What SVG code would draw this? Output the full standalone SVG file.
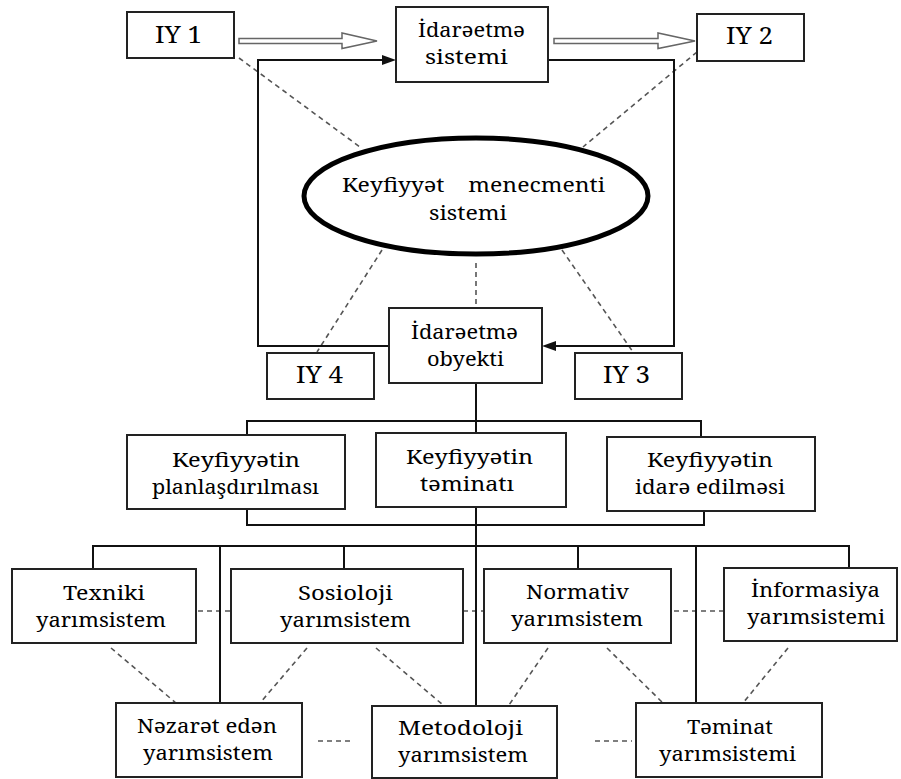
<svg xmlns="http://www.w3.org/2000/svg" width="901" height="779" viewBox="0 0 901 779">
<style>
.box{fill:#fff;stroke:#222;stroke-width:2}
.ell{fill:#fff;stroke:#000;stroke-width:5}
.t{font-family:"Noto Serif","DejaVu Serif",serif;font-size:19.5px;fill:#000;text-anchor:middle}
.tb{font-size:20.5px}
.iy{font-size:24px}
.ln{fill:none;stroke:#111;stroke-width:2}
.dash{fill:none;stroke:#555;stroke-width:1.6;stroke-dasharray:5 4}
.hol{fill:#fff;stroke:#666;stroke-width:1.5}
.ah{fill:#111}
</style>
<rect width="901" height="779" fill="#fff"/>
<g id="connectors">
<path class="dash" d="M239,58 L360,147"/>
<path class="dash" d="M697,52 L583,147"/>
<path class="dash" d="M382,250 L317,352"/>
<path class="dash" d="M476,263 L476,307"/>
<path class="dash" d="M562,250 L633,352"/>
<path class="dash" d="M198,611 H231"/>
<path class="dash" d="M463,611 H484"/>
<path class="dash" d="M674,611 H724"/>
<path class="dash" d="M111,648 L176,703"/>
<path class="dash" d="M307,648 L260,703"/>
<path class="dash" d="M376,648 L443,705"/>
<path class="dash" d="M548,648 L509,705"/>
<path class="dash" d="M607,648 L663,703"/>
<path class="dash" d="M788,648 L743,703"/>
<path class="dash" d="M318,741 H350"/>
<path class="dash" d="M595,741 H632"/>
<polygon class="hol" points="239,38.5 342,38.5 342,33 377,41 342,48.5 342,43.5 239,43.5"/>
<polygon class="hol" points="554,38.5 658,38.5 658,33 695,41 658,48.5 658,43.5 554,43.5"/>
<path class="ln" d="M389,346 H258 V60 H384"/>
<polygon class="ah" points="396,60 382,55 382,65"/>
<path class="ln" d="M548,60 H674 V346 H554"/>
<polygon class="ah" points="542,346 556,341 556,351"/>
<path class="ln" d="M476,383 V433 M476,507 V547"/>
<path class="ln" d="M247,435 V421 H701 V437"/>
<path class="ln" d="M247,509 V525 H704 V511"/>
<path class="ln" d="M93,569 V546 H849 V567"/>
<path class="ln" d="M220,546 V703 M344,546 V569 M476,546 V706 M578,546 V569 M696,546 V703"/>
</g>
<g id="iy1"><rect class="box" x="127" y="12" width="107" height="46"/><text class="t iy" x="178.5" y="43" textLength="47" lengthAdjust="spacingAndGlyphs">IY 1</text></g>
<g id="idare-sistemi"><rect class="box" x="396" y="7" width="152" height="75"/><text class="t" x="471.5" y="37" textLength="107" lengthAdjust="spacingAndGlyphs">İdarəetmə</text><text class="t" x="466.5" y="64" textLength="83" lengthAdjust="spacingAndGlyphs">sistemi</text></g>
<g id="iy2"><rect class="box" x="697" y="14" width="107" height="47"/><text class="t iy" x="749.5" y="44" textLength="47" lengthAdjust="spacingAndGlyphs">IY 2</text></g>
<g id="kms"><ellipse class="ell" cx="476" cy="196" rx="172" ry="58"/><text class="t tb" x="473.5" y="192" word-spacing="16" textLength="263" lengthAdjust="spacingAndGlyphs">Keyfiyyət menecmenti</text><text class="t tb" x="468" y="220" textLength="78" lengthAdjust="spacingAndGlyphs">sistemi</text></g>
<g id="idare-obyekti"><rect class="box" x="389" y="308" width="153" height="75"/><text class="t" x="464.5" y="339" textLength="107" lengthAdjust="spacingAndGlyphs">İdarəetmə</text><text class="t" x="465.5" y="366" textLength="77" lengthAdjust="spacingAndGlyphs">obyekti</text></g>
<g id="iy4"><rect class="box" x="267" y="353" width="107" height="46"/><text class="t iy" x="319.5" y="383" textLength="47" lengthAdjust="spacingAndGlyphs">IY 4</text></g>
<g id="iy3"><rect class="box" x="575" y="353" width="107" height="46"/><text class="t iy" x="626.5" y="383" textLength="47" lengthAdjust="spacingAndGlyphs">IY 3</text></g>
<g id="planlasdirilmasi"><rect class="box" x="127" y="435" width="218" height="74"/><text class="t" x="236" y="467" textLength="128" lengthAdjust="spacingAndGlyphs">Keyfiyyətin</text><text class="t" x="235.5" y="494" textLength="167" lengthAdjust="spacingAndGlyphs">planlaşdırılması</text></g>
<g id="teminati"><rect class="box" x="376" y="433" width="190" height="74"/><text class="t" x="469.5" y="464" textLength="127" lengthAdjust="spacingAndGlyphs">Keyfiyyətin</text><text class="t" x="467" y="491" textLength="94" lengthAdjust="spacingAndGlyphs">təminatı</text></g>
<g id="idare-edilmesi"><rect class="box" x="607" y="437" width="208" height="74"/><text class="t" x="710" y="467" textLength="126" lengthAdjust="spacingAndGlyphs">Keyfiyyətin</text><text class="t" x="710" y="494" textLength="150" lengthAdjust="spacingAndGlyphs">idarə edilməsi</text></g>
<g id="texniki"><rect class="box" x="12" y="569" width="184" height="74"/><text class="t" x="104" y="600" textLength="82" lengthAdjust="spacingAndGlyphs">Texniki</text><text class="t" x="101" y="627" textLength="130" lengthAdjust="spacingAndGlyphs">yarımsistem</text></g>
<g id="sosioloji"><rect class="box" x="231" y="569" width="232" height="74"/><text class="t" x="345.5" y="600" textLength="95" lengthAdjust="spacingAndGlyphs">Sosioloji</text><text class="t" x="345.5" y="627" textLength="131" lengthAdjust="spacingAndGlyphs">yarımsistem</text></g>
<g id="normativ"><rect class="box" x="484" y="569" width="187" height="74"/><text class="t" x="577.5" y="599" textLength="103" lengthAdjust="spacingAndGlyphs">Normativ</text><text class="t" x="577" y="626" textLength="132" lengthAdjust="spacingAndGlyphs">yarımsistem</text></g>
<g id="informasiya"><rect class="box" x="724" y="568" width="173" height="73"/><text class="t" x="815.5" y="597" textLength="129" lengthAdjust="spacingAndGlyphs">İnformasiya</text><text class="t" x="816" y="624" textLength="138" lengthAdjust="spacingAndGlyphs">yarımsistemi</text></g>
<g id="nezaret"><rect class="box" x="116" y="703" width="186" height="74"/><text class="t" x="207" y="733" textLength="140" lengthAdjust="spacingAndGlyphs">Nəzarət edən</text><text class="t" x="208" y="760" textLength="130" lengthAdjust="spacingAndGlyphs">yarımsistem</text></g>
<g id="metodoloji"><rect class="box" x="372" y="706" width="185" height="72"/><text class="t" x="460.5" y="735" textLength="125" lengthAdjust="spacingAndGlyphs">Metodoloji</text><text class="t" x="463" y="762" textLength="130" lengthAdjust="spacingAndGlyphs">yarımsistem</text></g>
<g id="teminat"><rect class="box" x="636" y="703" width="186" height="74"/><text class="t" x="730" y="734" textLength="86" lengthAdjust="spacingAndGlyphs">Təminat</text><text class="t" x="727.5" y="761" textLength="137" lengthAdjust="spacingAndGlyphs">yarımsistemi</text></g>
</svg>
